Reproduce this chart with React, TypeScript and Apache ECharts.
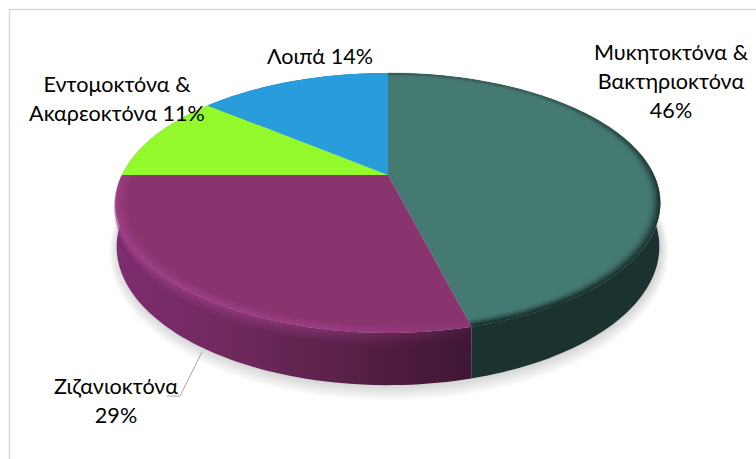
import React, { useEffect, useRef } from "react";
import * as echarts from "echarts";

const categories = ["Μυκητοκτόνα & Βακτηριοκτόνα", "Ζιζανιοκτόνα", "Εντομοκτόνα & Ακαρεοκτόνα", "Λοιπά"];
const shares = [46, 29, 11, 14];
const faceColors = ["#457a73", "#8a346f", "#93f92b", "#299cdc"];
const wallColors = ["#1b3230", "#6d2a5c", "#5f9f1c", "#1a6a9a"];

const total = shares.reduce((a, b) => a + b, 0);
const startAngle = (i: number) => (shares.slice(0, i).reduce((a, b) => a + b, 0) / total) * Math.PI * 2;

// Perspective view of a disc: angle runs clockwise from twelve o'clock.
const TILT = 0.215;
const topRim = { cx: 388, cy: 175, a: 266, b: 124 };
const baseRim = { cx: 388, cy: 217, a: 265, b: 132 };

type Rim = typeof topRim;

function project(p: Rim, angle: number, r = 1): number[] {
  const sx = r * Math.sin(angle);
  const sy = r * Math.cos(angle);
  const w = 1 + TILT * sy;
  return [p.cx + (p.a * sx) / w, p.cy - (p.b * sy) / w];
}

function arc(p: Rim, from: number, to: number, r = 1): number[][] {
  const steps = Math.max(4, Math.ceil(((to - from) / (Math.PI * 2)) * 240));
  const pts: number[][] = [];
  for (let i = 0; i <= steps; i++) pts.push(project(p, from + ((to - from) * i) / steps, r));
  return pts;
}

// A rim part-way down the wall, f = 0 at the top face and f = 1 at the base.
function rimBetween(f: number): Rim {
  return {
    cx: topRim.cx,
    cy: topRim.cy + (baseRim.cy - topRim.cy) * f,
    a: topRim.a + (baseRim.a - topRim.a) * f,
    b: topRim.b + (baseRim.b - topRim.b) * f,
  };
}

const sweep = (i: number) => [startAngle(i), startAngle(i + 1)];

const purpleGlow = (alpha: number) => ({
  type: "linear", global: true, x: 116, y: 0, x2: 470, y2: 0,
  colorStops: [
    { offset: 0, color: `rgba(172,70,148,${alpha})` },
    { offset: 0.6, color: `rgba(172,70,148,${alpha * 0.75})` },
    { offset: 1, color: `rgba(172,70,148,${alpha * 0.15})` },
  ],
});

const WALL_GLOW_BANDS = [0.03, 0.07, 0.11, 0.15, 0.19, 0.23];
const WALL_GLOW_ALPHA = [0.4, 0.3, 0.22, 0.15, 0.09, 0.04];

function renderWall(params: any) {
  const i = params.dataIndex;
  const [from, to] = sweep(i);
  const fill =
    i === 1
      ? {
          type: "linear", global: true, x: 116, y: 0, x2: 470, y2: 0,
          colorStops: [
            { offset: 0, color: "#7d2c70" },
            { offset: 0.35, color: "#6e295c" },
            { offset: 0.7, color: "#551f45" },
            { offset: 1, color: "#3f1633" },
          ],
        }
      : wallColors[i];
  const children: any[] = [
    {
      type: "polygon",
      shape: { points: [...arc(topRim, from, to), ...arc(baseRim, from, to).reverse()] },
      style: { fill },
    },
  ];
  if (i === 1) {
    WALL_GLOW_BANDS.forEach((f, k) => {
      children.push({
        type: "polyline",
        shape: { points: arc(rimBetween(f), from, to) },
        style: { fill: "none", stroke: purpleGlow(WALL_GLOW_ALPHA[k]), lineWidth: 2.6 },
      });
    });
  }
  return { type: "group", children };
}

// Soft rim on the disc's top face, built from thin concentric strokes.
const BEVEL_BANDS = [0.996, 0.989, 0.982, 0.975, 0.968, 0.961];
const PURPLE_ALPHA = [0.55, 0.42, 0.3, 0.2, 0.11, 0.05];
const TEAL_ALPHA = [0.85, 0.65, 0.42, 0.24, 0.1, 0.04];

function bevelStroke(i: number, k: number) {
  if (i === 1) return purpleGlow(PURPLE_ALPHA[k]);
  const alpha = TEAL_ALPHA[k];
  return {
    type: "linear", global: true, x: 0, y: 95, x2: 0, y2: 200,
    colorStops: [
      { offset: 0, color: `rgba(20,40,38,${alpha * 0.2})` },
      { offset: 1, color: `rgba(20,40,38,${alpha})` },
    ],
  };
}

function renderFace(params: any) {
  const i = params.dataIndex;
  const [from, to] = sweep(i);
  const children: any[] = [
    {
      type: "polygon",
      shape: { points: [[topRim.cx, topRim.cy], ...arc(topRim, from, to)] },
      style: { fill: faceColors[i] },
    },
  ];
  if (i < 2) {
    BEVEL_BANDS.forEach((r, k) => {
      children.push({
        type: "polyline",
        shape: { points: arc(topRim, from, to, r) },
        style: { fill: "none", stroke: bevelStroke(i, k), lineWidth: 2 },
      });
    });
  }
  return { type: "group", children };
}

// Ground shadow: stacked translucent discs that grow outward from the base.
const SHADOW_STEPS = [13, 11, 9, 7, 5, 3, 1];

function renderShadow(params: any) {
  if (params.dataIndex !== 0) return { type: "group", children: [] };
  return {
    type: "group",
    children: SHADOW_STEPS.map((s) => ({
      type: "polygon",
      shape: {
        points: arc(
          { cx: baseRim.cx + 1, cy: baseRim.cy + s * 0.25, a: baseRim.a + s * 0.62, b: baseRim.b + s * 0.72 },
          0,
          Math.PI * 2
        ),
      },
      style: { fill: "rgba(0,0,0,0.024)" },
    })),
  };
}

const labelFont = { fontFamily: "Lato, 'Noto Sans', sans-serif", fontSize: 21.6, lineHeight: 29, fill: "#000" };

function label(text: string, x: number, y: number) {
  return { type: "text", x, y, style: { ...labelFont, text, align: "center", verticalAlign: "middle" } };
}

export default function App() {
  const ref = useRef<HTMLDivElement>(null);
  useEffect(() => {
    const chart = echarts.init(ref.current!, null, { renderer: "svg" });
    const data = categories.map((name, i) => ({ name, value: shares[i] }));
    const customBase = { type: "custom", coordinateSystem: "none", silent: true, clip: false, data };
    chart.setOption({
      animation: false,
      backgroundColor: "#ffffff",
      graphic: [
        { type: "line", shape: { x1: 9, y1: 9.5, x2: 756, y2: 9.5 }, style: { stroke: "#d9d9d9", lineWidth: 1.5 } },
        { type: "line", shape: { x1: 9.5, y1: 9, x2: 9.5, y2: 459 }, style: { stroke: "#d9d9d9", lineWidth: 1.5 } },
        {
          type: "polyline",
          z: 20,
          shape: { points: [[202, 352], [180, 396], [167, 396]] },
          style: { fill: "none", stroke: "#a6a6a6", lineWidth: 1 },
        },
        { ...label(`${categories[0].replace("& ", "&\n")}\n${shares[0]}%`, 671, 81), z: 20 },
        { ...label(`${categories[1]}\n${shares[1]}%`, 116, 400), z: 20 },
        { ...label(`${categories[2].replace("& ", "&\n")} ${shares[2]}%`, 117, 98), z: 20 },
        { ...label(`${categories[3]} ${shares[3]}%`, 320, 56), z: 20 },
      ],
      series: [
        { ...customBase, z: 1, renderItem: renderShadow },
        { ...customBase, z: 2, renderItem: renderWall },
        { ...customBase, z: 3, renderItem: renderFace },
      ],
    });
    return () => chart.dispose();
  }, []);
  return <div ref={ref} style={{ position: "absolute", left: 0, top: 0, width: 756, height: 459 }} />;
}
